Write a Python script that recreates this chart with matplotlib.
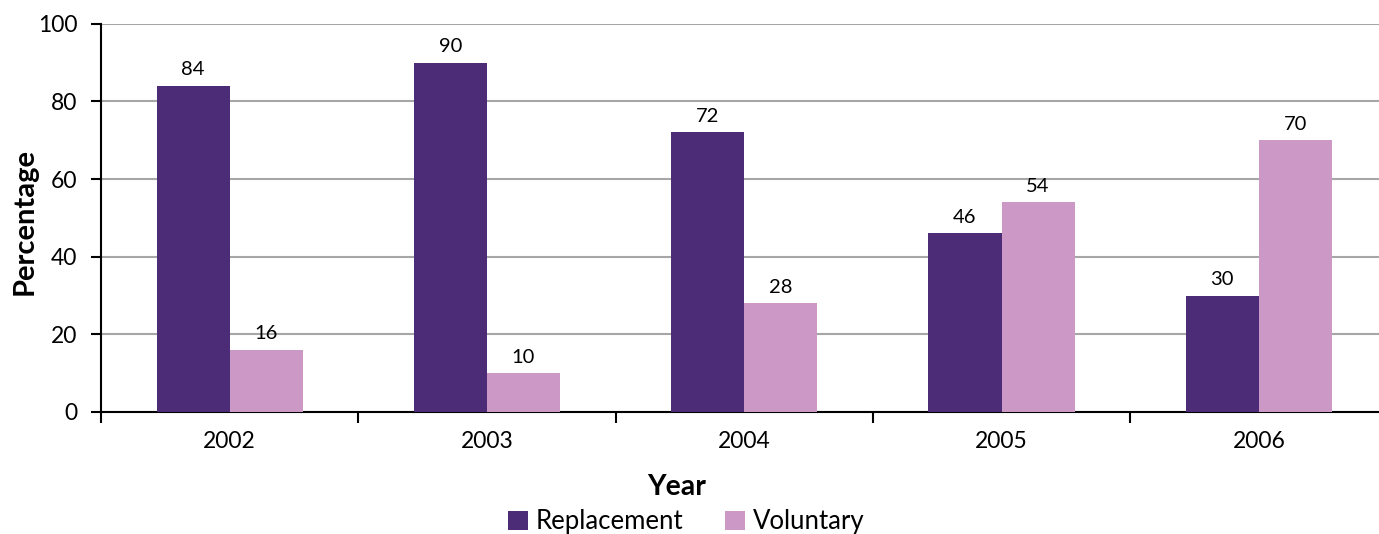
import matplotlib
matplotlib.use("Agg")
import matplotlib.pyplot as plt
import numpy as np
from matplotlib.patches import Patch

years = ["2002", "2003", "2004", "2005", "2006"]
replacement = [84, 90, 72, 46, 30]
voluntary = [16, 10, 28, 54, 70]
series_names = ["Replacement", "Voluntary"]
y_ticks = [0, 20, 40, 60, 80, 100]

dark = "#4D2C77"
light = "#CC99C7"

plt.rcParams["font.family"] = ["Lato", "DejaVu Sans"]

W, H = 1379, 534
fig = plt.figure(figsize=(W / 100, H / 100), dpi=100)
# plot area in pixels: left 101, right 1387.5 (runs slightly past the canvas), top 23.7, bottom 412
left, right, top, bottom = 101, 1387.5, 23.7, 412
ax = fig.add_axes([left / W, 1 - bottom / H, (right - left) / W, (bottom - top) / H])

x = np.arange(len(years))
bw = 0.284
b1 = ax.bar(x - bw / 2, replacement, bw, color=dark, zorder=3)
b2 = ax.bar(x + bw / 2, voluntary, bw, color=light, zorder=3)

for bars in (b1, b2):
    ax.bar_label(bars, labels=[str(v) for v in bars.datavalues], padding=5.5,
                 fontsize=14.5, color="black")

ax.set_xlim(-0.5, len(years) - 0.5)
ax.set_ylim(0, 100)
ax.set_yticks(y_ticks)
ax.set_yticklabels([str(t) for t in y_ticks], fontsize=16.5)
ax.yaxis.grid(True, color="#A6A6A6", linewidth=1.5, zorder=0)
ax.set_axisbelow(True)

# category labels at centres, tick marks at boundaries
ax.set_xticks(x)
ax.set_xticklabels(years, fontsize=16.5)
ax.tick_params(axis="x", which="major", length=0, pad=14)
ax.set_xticks(np.arange(len(years) + 1) - 0.5, minor=True)
ax.tick_params(axis="x", which="minor", length=8, width=1.5, color="black", direction="out")
ax.tick_params(axis="y", length=7, width=1.5, color="black", pad=10)

for s in ("top", "right"):
    ax.spines[s].set_visible(False)
for s in ("left", "bottom"):
    ax.spines[s].set_linewidth(1.5)
    ax.spines[s].set_color("black")

fig.text(677 / W, 1 - 487 / H, "Year", ha="center", va="center",
         fontsize=20.5, fontweight="bold")
fig.text(25 / W, 1 - 221.5 / H, "Percentage", ha="center", va="center",
         rotation=90, fontsize=21, fontweight="bold")

handles = [Patch(facecolor=dark, label=series_names[0]),
           Patch(facecolor=light, label=series_names[1])]
fig.legend(handles=handles, loc="center", bbox_to_anchor=(686 / W, 1 - 522 / H),
           ncol=2, frameon=False, fontsize=18.5, handlelength=0.8, handleheight=0.8,
           handletextpad=0.3, columnspacing=1.6, borderpad=0)

fig.savefig("out.png", dpi=100)
